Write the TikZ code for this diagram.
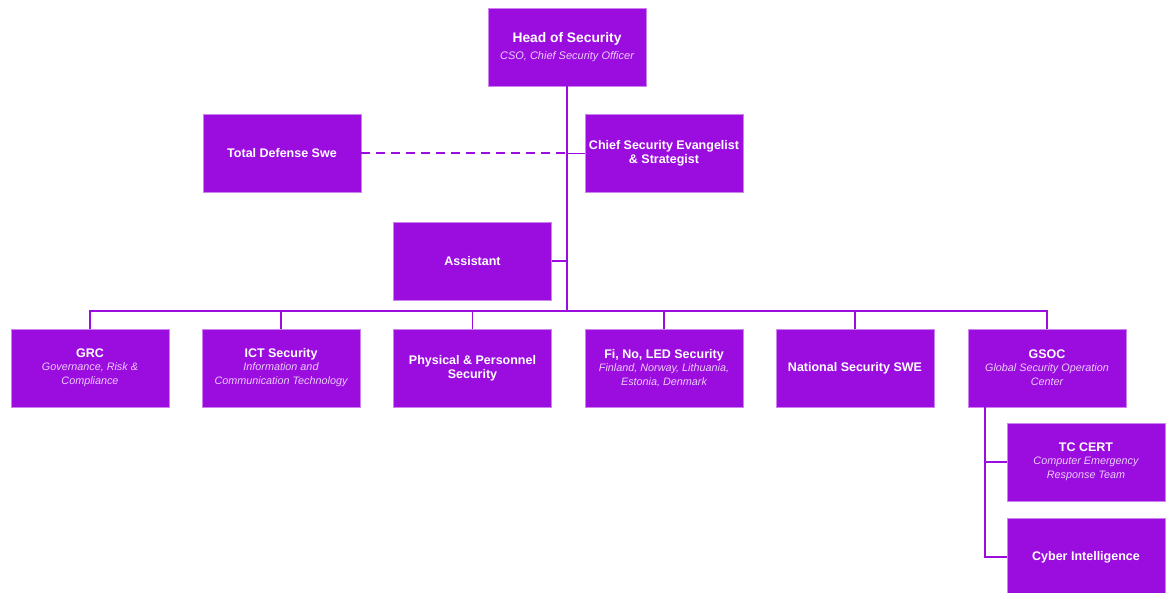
\documentclass[tikz,border=0pt]{standalone}
\usepackage{fontspec}
\setmainfont{Liberation Sans}
\definecolor{boxfill}{RGB}{155,12,223}
\definecolor{boxedge}{RGB}{205,130,240}
\definecolor{subtxt}{RGB}{235,205,250}
\definecolor{linec}{RGB}{155,12,223}
\newcommand{\sbf}{\fontsize{10.8}{12.5}\selectfont\mdseries\itshape\color{subtxt}}
\begin{document}
\begin{tikzpicture}[x=1pt,y=-1pt,
  unit/.style={draw=boxedge, line width=0.8pt, fill=boxfill, minimum width=158pt, minimum height=78pt, inner sep=2pt, align=center, text=white, font=\fontsize{12.5}{14}\selectfont\bfseries},
  conn/.style={draw=linec, line width=1.6pt},
  dashconn/.style={draw=linec, line width=2pt, line cap=butt, dash pattern=on 9pt off 6pt}]
\useasboundingbox (0,0) rectangle (1170,593);
\node[unit, font=\fontsize{13.8}{16}\selectfont\bfseries] (head) at (567,47) {Head of Security\\[1pt]\fontsize{11}{13}\selectfont\mdseries\itshape\color{subtxt}CSO, Chief Security Officer};
\node[unit] (tds) at (282,153.5) {Total Defense Swe};
\node[unit] (cse) at (664,153.5) {Chief Security Evangelist\\\& Strategist};
\node[unit] (asst) at (472.5,261) {Assistant};
\node[unit] (grc) at (90,368) {GRC\\[-1pt]\sbf Governance, Risk \&\\\sbf Compliance};
\node[unit] (ict) at (281,368) {ICT Security\\[-1pt]\sbf Information and\\\sbf Communication Technology};
\node[unit] (phys) at (472.5,368) {Physical \& Personnel\\Security};
\node[unit] (fino) at (664,368) {Fi, No, LED Security\\[-1pt]\sbf Finland, Norway, Lithuania,\\\sbf Estonia, Denmark};
\node[unit] (nat) at (855,368) {National Security SWE};
\node[unit] (gsoc) at (1047,368) {GSOC\\[-1pt]\sbf Global Security Operation\\\sbf Center};
\node[unit] (cert) at (1086,462) {TC CERT\\[-1pt]\sbf Computer Emergency\\\sbf Response Team};
\node[unit] (cyber) at (1086,557) {Cyber Intelligence};
\coordinate (bus) at (567,311);
\coordinate (ev) at (567,153.5);
\coordinate (av) at (567,261);
\coordinate (gv) at (985,407);
\coordinate (gc) at (985,462);
\coordinate (gy) at (985,557);
\draw[dashconn] (tds.east) -- (ev);
\draw[conn] (head.south) -- (bus);
\draw[conn] (ev) -- (cse.west);
\draw[conn] (asst.east) -- (av);
\foreach \n in {grc,ict,phys,fino,nat,gsoc}{
  \draw[conn] (bus) -| (\n.north);
}
\draw[conn] (gv) -- (gy) -- (cyber.west);
\draw[conn] (gc) -- (cert.west);
\end{tikzpicture}
\end{document}
